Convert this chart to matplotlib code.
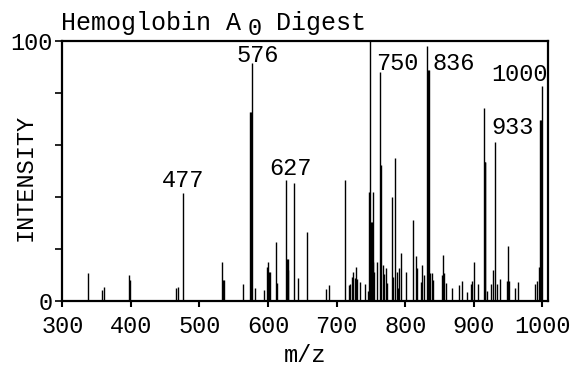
import matplotlib
matplotlib.use("Agg")
import matplotlib.pyplot as plt

# ---- data ----
mz = [337.5, 358.3, 360.3, 397.2, 399.1, 465.3, 469.1, 475.4,
      533.2, 534.5, 535.5, 563.9, 574.2, 575.0, 576.5, 580.5,
      594.0, 598.4, 599.9, 601.3, 602.8, 611.0, 612.5, 626.1,
      627.5, 628.5, 629.5, 638.2, 643.6, 656.3, 684.4, 689.2,
      712.1, 717.5, 720.0, 722.7, 723.5, 726.0, 727.7, 729.2,
      733.5, 741.5, 745.2, 747.6, 749.0, 750.0, 750.8, 752.5,
      753.5, 755.0, 758.3, 763.1, 764.6, 767.0, 768.4, 771.4,
      773.8, 781.0, 782.5, 785.0, 787.4, 789.0, 790.8, 793.3,
      800.6, 811.9, 815.6, 816.9, 822.9, 824.9, 827.5, 832.1,
      833.5, 834.3, 836.0, 838.6, 840.5, 853.0, 855.2, 856.8,
      858.8, 867.6, 877.8, 882.2, 889.5, 895.8, 897.7, 900.6,
      906.4, 914.7, 916.0, 916.8, 918.6, 924.5, 928.3, 931.2,
      933.2, 938.0, 947.8, 950.2, 951.6, 959.9, 964.7, 989.0,
      991.5, 994.9, 997.0, 997.8, 999.7]
intensity = [10.5, 4.1, 5.3, 10.0, 8.0, 4.7, 5.3, 41.5,
             15.0, 8.0, 8.0, 6.4, 72.4, 72.4, 91.3, 4.7,
             4.0, 12.8, 15.0, 11.0, 11.0, 22.7, 6.7, 46.4,
             16.0, 16.0, 11.8, 45.4, 8.6, 26.5, 4.5, 6.2,
             46.3, 6.1, 6.5, 9.0, 11.0, 8.6, 13.0, 8.3,
             7.2, 6.5, 3.6, 41.7, 100.0, 30.4, 30.4, 41.9,
             14.7, 11.0, 15.0, 88.0, 52.0, 13.7, 10.2, 12.5,
             6.7, 40.0, 9.0, 55.0, 11.2, 5.0, 12.5, 18.2,
             11.2, 31.0, 17.0, 12.5, 7.3, 13.7, 9.9, 98.0,
             88.7, 88.7, 10.5, 10.5, 8.0, 10.0, 17.6, 10.5,
             6.7, 4.7, 6.2, 7.7, 3.2, 6.4, 7.7, 14.7,
             6.4, 74.0, 53.2, 53.2, 3.8, 6.4, 11.8, 61.0,
             6.4, 8.3, 7.4, 21.0, 7.4, 5.0, 7.0, 6.4,
             7.7, 13.0, 69.5, 69.5, 82.7]

peak_labels = ["477", "576", "627", "750", "836", "933", "1000"]
label_mz = [476, 585, 632, 788, 871, 957, 967]
label_int = [43.7, 91.8, 48.3, 88.7, 88.7, 64.2, 84.5]

x_ticks = [300, 400, 500, 600, 700, 800, 900, 1000]
x_ticklabels = ["300", "400", "500", "600", "700", "800", "900", "1000"]
y_ticks = [0, 20, 40, 60, 80, 100]
y_ticklabels = ["0", "", "", "", "", "100"]

# ---- figure ----
plt.rcParams['font.family'] = ['Liberation Mono', 'DejaVu Sans Mono']
W, H = 577, 366
fig = plt.figure(figsize=(W / 100, H / 100), dpi=100)
ax = fig.add_axes([62.3 / W, 1 - 300.7 / H, 486 / W, 260.2 / H])

ax.vlines(mz, 0, intensity, color="black", lw=1.0)
ax.set_xlim(300, 1008.5)
ax.set_ylim(0, 100)

ax.set_xticks(x_ticks)
ax.set_xticklabels(x_ticklabels)
ax.set_yticks(y_ticks)
ax.set_yticklabels(y_ticklabels)
ax.tick_params(axis="x", direction="out", length=4, width=1.5, labelsize=17, pad=6)
ax.tick_params(axis="y", direction="out", length=5, width=1.2, labelsize=17, pad=2)
for s in ax.spines.values():
    s.set_linewidth(1.6)

for t, xm, yi in zip(peak_labels, label_mz, label_int):
    ax.text(xm, yi, t, ha="center", va="baseline", fontsize=17)

ax.set_xlabel("m/z", fontsize=17, va="baseline")
ax.xaxis.set_label_coords(0.5, (300.7 - 361.5) / 260.2)
ax.set_ylabel("INTENSITY", fontsize=17, va="center")
ax.yaxis.set_label_coords(-0.077, 0.475)

# title with subscript
fig.text(61 / W, 1 - 30 / H, "Hemoglobin A", fontsize=18, ha="left", va="baseline")
fig.text(248 / W, 1 - 35 / H, "0", fontsize=17, ha="left", va="baseline")
fig.text(276 / W, 1 - 30 / H, "Digest", fontsize=18, ha="left", va="baseline")

fig.savefig("out.png", dpi=100)
